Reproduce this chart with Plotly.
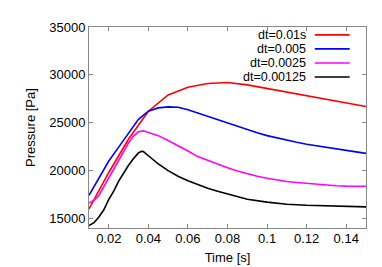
import plotly.graph_objects as go

# ---- data ----
series_names = ["dt=0.01s", "dt=0.005", "dt=0.0025", "dt=0.00125"]
series_colors = ["#ff0000", "#0000ff", "#ff00ff", "#000000"]

t_red = [0.01, 0.02, 0.03, 0.04, 0.05, 0.06, 0.07, 0.08, 0.09, 0.10, 0.11, 0.12, 0.13, 0.14, 0.15]
p_red = [16000, 19800, 23300, 26200, 27900, 28700, 29100, 29200, 28950, 28580, 28200, 27820, 27450, 27080, 26700]

t_blue = [0.01, 0.015, 0.02, 0.025, 0.03, 0.035, 0.04, 0.045, 0.05, 0.055, 0.06, 0.065, 0.07,
          0.075, 0.08, 0.085, 0.09, 0.095, 0.10, 0.105, 0.11, 0.115, 0.12, 0.125, 0.13, 0.135,
          0.14, 0.145, 0.15]
p_blue = [17400, 19200, 21000, 22450, 23950, 25350, 26200, 26550, 26650, 26620, 26350, 26000, 25650,
          25300, 24950, 24600, 24250, 23950, 23650, 23400, 23150, 22950, 22750, 22580, 22400, 22250,
          22100, 21950, 21800]

t_mag = [0.01, 0.0125, 0.015, 0.02, 0.025, 0.03, 0.0325, 0.035, 0.0375, 0.04, 0.045, 0.05, 0.055,
         0.06, 0.065, 0.07, 0.075, 0.08, 0.085, 0.09, 0.095, 0.10, 0.105, 0.11, 0.115, 0.12, 0.125,
         0.13, 0.135, 0.14, 0.145, 0.15]
p_mag = [16600, 16900, 17400, 19250, 20950, 22900, 23600, 24050, 24150, 24000, 23650, 23150, 22640,
         22050, 21460, 21050, 20700, 20300, 19950, 19650, 19400, 19200, 19000, 18850, 18750, 18650, 18550,
         18480, 18420, 18380, 18360, 18360]

t_blk = [0.01, 0.0125, 0.015, 0.0175, 0.02, 0.0225, 0.025, 0.0275, 0.03, 0.0325, 0.035, 0.0365,
         0.0375, 0.04, 0.0425, 0.045, 0.05, 0.055, 0.06, 0.065, 0.07, 0.075, 0.08, 0.09, 0.10, 0.11,
         0.12, 0.13, 0.14, 0.15]
p_blk = [14250, 14550, 15150, 15900, 17000, 17850, 18900, 19750, 20550, 21250, 21850, 22000,
         21990, 21550, 21100, 20700, 20000, 19400, 18940, 18550, 18150, 17850, 17550, 17000, 16700, 16480,
         16370, 16290, 16240, 16210]

x_ticks = [0.02, 0.04, 0.06, 0.08, 0.10, 0.12, 0.14]
x_ticklabels = ["0.02", "0.04", "0.06", "0.08", "0.1", "0.12", "0.14"]
y_ticks = [15000, 20000, 25000, 30000, 35000]
y_ticklabels = ["15000", "20000", "25000", "30000", "35000"]

xs = [t_red, t_blue, t_mag, t_blk]
ys = [p_red, p_blue, p_mag, p_blk]

FONT = "Liberation Sans, Arial, sans-serif"
GRAY = "#888888"

fig = go.Figure()
for x, y, name, c in zip(xs, ys, series_names, series_colors):
    fig.add_trace(go.Scatter(x=x, y=y, mode="lines", name=name,
                             line=dict(color=c, width=1.6), showlegend=False))

# manual gnuplot-style legend (text right, sample line after it)
row_y = [0.961, 0.891, 0.821, 0.751]
for name, c, ry in zip(series_names, series_colors, row_y):
    fig.add_annotation(x=0.787, y=ry, xref="paper", yref="paper", text=name,
                       showarrow=False, xanchor="right", yanchor="middle", borderpad=0,
                       font=dict(family=FONT, size=12.5, color="#000000"))
    fig.add_shape(type="line", xref="paper", yref="paper", x0=0.815, x1=0.941,
                  y0=ry, y1=ry, line=dict(color=c, width=1.6))

axis_common = dict(showline=True, linecolor=GRAY, linewidth=1, mirror="ticks",
                   ticks="inside", ticklen=4, tickcolor=GRAY, tickwidth=1,
                   showgrid=False, zeroline=False,
                   tickfont=dict(family=FONT, size=13, color="#000000"))

fig.update_xaxes(range=[0.01, 0.15], tickvals=x_ticks, ticktext=x_ticklabels,
                 ticklabelstandoff=-2,
                 title=dict(text="Time [s]", font=dict(family=FONT, size=13, color="#000000"), standoff=8),
                 **axis_common)
fig.update_yaxes(range=[14000, 35000], tickvals=y_ticks, ticktext=y_ticklabels,
                 title=dict(text="Pressure [Pa]", font=dict(family=FONT, size=13, color="#000000"), standoff=10),
                 **axis_common)

fig.update_layout(width=382, height=267, margin=dict(l=81, r=24, t=16, b=44),
                  plot_bgcolor="white", paper_bgcolor="white",
                  font=dict(family=FONT, size=13, color="#000000"))

fig.write_html("out.html")
